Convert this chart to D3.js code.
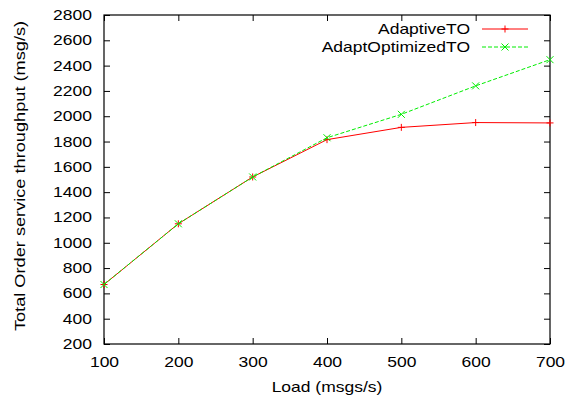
<!DOCTYPE html>
<html lang="en">
  <head>
    <meta charset="utf-8">
    <title>Total Order throughput</title>
    <script src="https://cdn.jsdelivr.net/npm/d3@7"></script>
    <style>
      body { margin: 0; background: #fff; }
      text { font-family: "Liberation Sans", Arial, sans-serif; }
    </style>
  </head>
  <body>
    <svg width="566" height="399" id="mainsvg"></svg>
    <script>
      const loads = [100, 200, 300, 400, 500, 600, 700];
      const adaptive = [670, 1150, 1520, 1815, 1912, 1950, 1947];
      const adaptOptimized = [670, 1150, 1520, 1830, 2015, 2240, 2447];
      const xTicks = [100, 200, 300, 400, 500, 600, 700];
      const yTicks = d3.range(200, 2801, 200);

      const svg = d3.select('#mainsvg');
      const margin = { top: 15, right: 16, bottom: 55, left: 104 };
      const innerWidth = 566 - margin.left - margin.right;
      const innerHeight = 399 - margin.top - margin.bottom;

      const x = d3.scaleLinear().domain([100, 700]).range([0, innerWidth]);
      const y = d3.scaleLinear().domain([200, 2800]).range([innerHeight, 0]);

      // gnuplot's Helvetica is wider than Arial: stretch text horizontally around its anchor
      const stretch = (sel, k) => sel.each(function () {
        const t = d3.select(this);
        const tx = +t.attr('x') || 0;
        t.attr('x', 0).attr('transform', `translate(${tx}, 0) scale(${k}, 1)`);
      });

      const g = svg.append('g')
        .attr('transform', `translate(${margin.left}, ${margin.top})`);

      // ticks on all four sides, pointing inward
      const styleAxis = sel => {
        sel.select('.domain').remove();
        sel.selectAll('line').attr('stroke', '#000');
        sel.selectAll('text').attr('font-size', 14).attr('fill', '#000').call(stretch, 1.25);
      };
      g.append('g').attr('transform', `translate(0, ${innerHeight})`)
        .call(d3.axisBottom(x).tickValues(xTicks).tickSize(-6).tickPadding(13).tickFormat(d3.format('d')))
        .call(styleAxis);
      g.append('g')
        .call(d3.axisTop(x).tickValues(xTicks).tickSize(-6).tickFormat(''))
        .call(styleAxis);
      g.append('g')
        .call(d3.axisLeft(y).tickValues(yTicks).tickSize(-6).tickPadding(12).tickFormat(d3.format('d')))
        .call(styleAxis);
      g.append('g').attr('transform', `translate(${innerWidth}, 0)`)
        .call(d3.axisRight(y).tickValues(yTicks).tickSize(-6).tickFormat(''))
        .call(styleAxis);

      g.append('rect')
        .attr('width', innerWidth).attr('height', innerHeight)
        .attr('fill', 'none').attr('stroke', '#000').attr('stroke-width', 1.2);

      const line = d3.line().x(d => x(d[0])).y(d => y(d[1]));
      const series = [
        { name: 'AdaptiveTO', values: adaptive, color: '#ff0000', dash: null, mark: 'plus' },
        { name: 'AdaptOptimizedTO', values: adaptOptimized, color: '#00ee00', dash: '4,2', mark: 'cross' }
      ];

      const marker = (sel, type, cx, cy, color) => {
        const s = 3.5;
        const p = type === 'plus'
          ? `M${cx - s},${cy}H${cx + s}M${cx},${cy - s}V${cy + s}`
          : `M${cx - s},${cy - s}L${cx + s},${cy + s}M${cx - s},${cy + s}L${cx + s},${cy - s}`;
        sel.append('path').attr('d', p).attr('stroke', color).attr('stroke-width', 1).attr('fill', 'none');
      };

      series.forEach((s, i) => {
        const pts = loads.map((l, j) => [l, s.values[j]]);
        g.append('path').datum(pts)
          .attr('d', line)
          .attr('fill', 'none')
          .attr('stroke', s.color)
          .attr('stroke-width', 1)
          .attr('stroke-dasharray', s.dash);
        pts.forEach(p => marker(g, s.mark, x(p[0]), y(p[1]), s.color));

        // legend
        const ly = 14 + i * 18;
        g.append('text').text(s.name)
          .attr('x', 366).attr('y', ly + 5)
          .attr('text-anchor', 'end')
          .attr('font-size', 14)
          .call(stretch, 1.25);
        g.append('line')
          .attr('x1', 378).attr('x2', 424).attr('y1', ly).attr('y2', ly)
          .attr('stroke', s.color).attr('stroke-width', 1)
          .attr('stroke-dasharray', s.dash);
        marker(g, s.mark, 401, ly, s.color);
      });

      svg.append('text').text('Load (msgs/s)')
        .attr('x', 327).attr('y', 392)
        .attr('text-anchor', 'middle').attr('font-size', 14)
        .call(stretch, 1.25);
      svg.append('text').text('Total Order service throughput (msg/s)')
        .attr('transform', `translate(25, 176) rotate(-90) scale(1.3, 1)`)
        .attr('text-anchor', 'middle').attr('font-size', 14);
    </script>
  </body>
</html>
